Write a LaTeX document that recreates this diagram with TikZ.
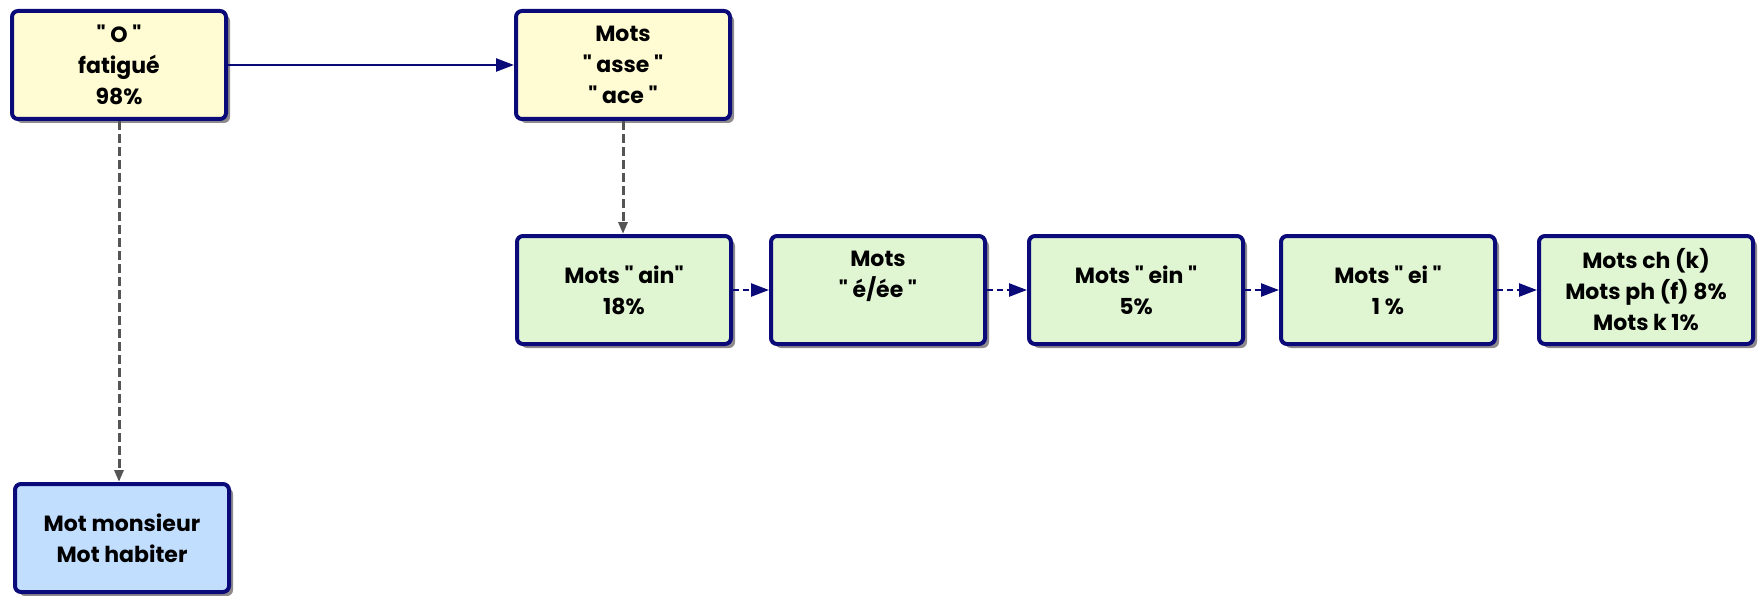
\documentclass[tikz,border=0pt]{standalone}
\usepackage{fontspec}
\setmainfont{Poppins}[Ligatures=TeXOff]
\usetikzlibrary{arrows.meta,shadows}
\definecolor{navyb}{HTML}{0A0A78}
\definecolor{yel}{HTML}{FFFBD2}
\definecolor{grn}{HTML}{E0F5D2}
\definecolor{blu}{HTML}{C2DEFF}
\definecolor{shd}{HTML}{8E8A8E}
\definecolor{dgr}{HTML}{555555}
\tikzset{
  box/.style={draw=navyb, line width=4pt, rounded corners=6pt,
    minimum width=214pt, minimum height=108pt, align=center,
    font=\fontsize{22}{31}\selectfont\bfseries, inner sep=0pt,
    drop shadow={shadow xshift=4pt, shadow yshift=-4pt, fill=shd, opacity=1}},
  ybox/.style={box, fill=yel},
  gbox/.style={box, fill=grn},
  bbox/.style={box, fill=blu},
  solidarr/.style={draw=navyb, line width=2.5pt, -{Triangle[length=18pt,width=13pt]}},
  dasharr/.style={draw=navyb, line width=2.5pt, dash pattern=on 6pt off 4pt, -{Triangle[length=18pt,width=13pt]}},
  grayarr/.style={draw=dgr, line width=3pt, dash pattern=on 9pt off 4pt, -{Triangle[length=12pt,width=9pt, fill=gray!70]}},
}
\begin{document}
\begin{tikzpicture}[x=1pt,y=1pt]
\useasboundingbox (0,0) rectangle (1758,-596);
\node[ybox] (a) at (119,-65) {" O "\\fatigué\\98\%};
\node[ybox] (b) at (623,-65) {Mots\\" asse "\\" ace "};
\node[gbox] (c) at (624,-290) {Mots " ain"\\18\%};
\node[gbox] (d) at (878,-290) {Mots\\" é/ée "\\\mbox{}};
\node[gbox] (e) at (1136,-290) {Mots " ein "\\5\%};
\node[gbox] (f) at (1388,-290) {Mots " ei "\\1 \%};
\node[gbox] (g) at (1646,-290) {Mots ch (k)\\Mots ph (f) 8\%\\Mots k 1\%};
\node[bbox] (h) at (122,-538) {Mot monsieur\\Mot habiter};
\draw[solidarr] (a.east) -- (b.west);
\draw[grayarr] (a.south) -- (a.south |- h.north);
\draw[grayarr] (b.south) -- (b.south |- c.north);
\draw[dasharr] (c.east) -- (d.west);
\draw[dasharr] (d.east) -- (e.west);
\draw[dasharr] (e.east) -- (f.west);
\draw[dasharr] (f.east) -- (g.west);
\end{tikzpicture}
\end{document}
